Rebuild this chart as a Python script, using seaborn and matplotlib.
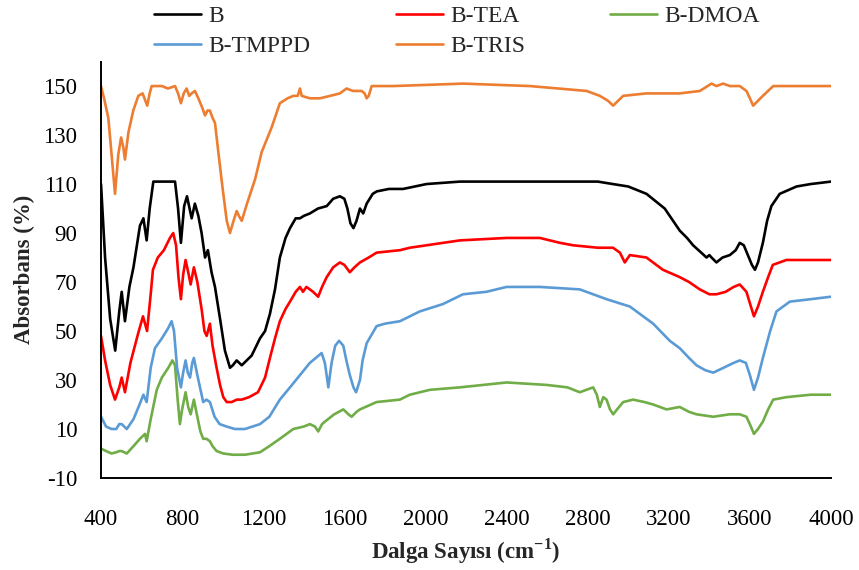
import pandas as pd
import matplotlib.pyplot as plt
import seaborn as sns

# -------------------------
# 1. Daten
# -------------------------
wn_b = [400, 420, 445, 470, 490, 502, 518, 540, 560, 592, 609, 625, 640, 658, 700, 765, 780, 794,
        810, 824, 847, 863, 880, 896, 913, 927, 945, 962, 987, 1011, 1036, 1050, 1069, 1094, 1143,
        1184, 1209, 1233, 1258, 1282, 1310, 1332, 1360, 1381, 1400, 1430, 1470, 1513, 1545, 1578,
        1600, 1615, 1630, 1645, 1660, 1677, 1693, 1710, 1740, 1760, 1820, 1890, 2005, 2170, 2400,
        2700, 2850, 2924, 3000, 3090, 3180, 3254, 3290, 3320, 3360, 3386, 3400, 3411, 3435, 3465,
        3501, 3530, 3550, 3570, 3590, 3610, 3625, 3640, 3664, 3685, 3706, 3747, 3830, 3900, 4000]
abs_b = [110, 80, 55, 42, 58, 66, 54, 68, 76, 93, 96, 87, 100, 111, 111, 111, 100, 86,
         101, 105, 96, 102, 97, 90, 80, 83, 74, 68, 55, 42, 35, 36, 38, 36, 40,
         47, 50, 57, 67, 80, 88, 92, 96, 96, 97, 98, 100, 101, 104, 105,
         104, 100, 94, 92, 95, 100, 98, 102, 106, 107, 108, 108, 110, 111, 111,
         111, 111, 110, 109, 106, 100, 91, 88, 85, 82, 80, 81, 80, 78, 80,
         81, 83, 86, 85, 81, 77, 75, 78, 86, 95, 101, 106, 109, 110, 111]

wn_tea = [400, 420, 445, 469, 490, 502, 518, 545, 583, 607, 627, 645, 656, 680, 710, 740, 756, 770,
          782, 794, 805, 817, 830, 842, 858, 875, 896, 910, 921, 937, 950, 970, 987, 1003, 1020,
          1044, 1070, 1094, 1130, 1174, 1209, 1233, 1258, 1282, 1310, 1332, 1360, 1381, 1396, 1413,
          1446, 1471, 1490, 1513, 1545, 1578, 1600, 1627, 1650, 1677, 1720, 1759, 1874, 1923, 2005,
          2170, 2400, 2564, 2663, 2728, 2850, 2925, 2959, 2983, 3008, 3090, 3171, 3254, 3300, 3353,
          3400, 3435, 3480, 3520, 3550, 3583, 3605, 3620, 3640, 3664, 3690, 3713, 3780, 3900, 4000]
abs_tea = [48, 38, 28, 22, 27, 31, 25, 37, 49, 56, 50, 65, 75, 80, 83, 88, 90, 85,
           72, 63, 73, 79, 74, 69, 76, 70, 59, 50, 48, 53, 44, 35, 28, 23, 21,
           21, 22, 22, 23, 25, 31, 39, 47, 54, 59, 62, 66, 68, 66, 68,
           66, 64, 68, 72, 76, 78, 77, 74, 76, 78, 80, 82, 83, 84, 85,
           87, 88, 88, 86, 85, 84, 84, 82, 78, 81, 80, 75, 72, 70, 67,
           65, 65, 66, 68, 69, 66, 60, 56, 60, 66, 72, 77, 79, 79, 79]

wn_dmoa = [400, 425, 452, 475, 490, 502, 527, 560, 592, 617, 625, 645, 675, 700, 732, 752, 765, 778,
           789, 800, 817, 830, 842, 858, 875, 890, 904, 920, 937, 950, 970, 1003, 1050, 1110, 1184,
           1230, 1282, 1348, 1400, 1430, 1455, 1471, 1490, 1504, 1550, 1595, 1620, 1636, 1660, 1677,
           1759, 1874, 1923, 2022, 2170, 2400, 2597, 2700, 2761, 2827, 2845, 2860, 2877, 2893, 2910,
           2926, 2945, 2975, 3024, 3080, 3123, 3189, 3254, 3300, 3337, 3419, 3500, 3550, 3583, 3605,
           3620, 3640, 3664, 3690, 3715, 3780, 3900, 4000]
abs_dmoa = [2, 1, 0, 0.5, 1, 1, 0, 3, 6, 8, 5, 14, 26, 31, 35, 38, 36, 22,
            12, 18, 25, 19, 16, 22, 15, 9, 6, 6, 5, 3, 1, 0, -0.5, -0.5, 0.5,
            3, 6, 10, 11, 12, 11, 9, 12, 13, 16, 18, 16, 15, 17, 18,
            21, 22, 24, 26, 27, 29, 28, 27, 25, 27, 24, 19, 23, 22, 18,
            16, 18, 21, 22, 21, 20, 18, 19, 17, 16, 15, 16, 16, 15, 11,
            8, 10, 13, 18, 22, 23, 24, 24]

wn_tmppd = [400, 425, 452, 475, 490, 502, 527, 560, 590, 609, 625, 645, 666, 700, 730, 748, 760, 775,
            794, 805, 817, 828, 839, 850, 858, 875, 896, 904, 920, 937, 960, 985, 1020, 1060, 1110,
            1184, 1230, 1282, 1332, 1381, 1430, 1488, 1504, 1521, 1537, 1555, 1574, 1595, 1610, 1627,
            1645, 1658, 1677, 1690, 1710, 1759, 1800, 1874, 1972, 2086, 2185, 2300, 2400, 2564, 2761,
            2893, 3008, 3123, 3205, 3254, 3300, 3337, 3380, 3419, 3470, 3520, 3550, 3580, 3600, 3620,
            3640, 3664, 3700, 3731, 3797, 3900, 4000]
abs_tmppd = [15, 11, 10, 10, 12, 12, 10, 14, 20, 24, 21, 35, 43, 47, 51, 54, 50, 35,
             27, 33, 38, 33, 31, 37, 39, 32, 24, 21, 22, 21, 15, 12, 11, 10, 10,
             12, 15, 22, 27, 32, 37, 41, 37, 27, 37, 44, 46, 44, 38, 32,
             27, 25, 30, 38, 45, 52, 53, 54, 58, 61, 65, 66, 68, 68, 67,
             63, 60, 53, 46, 43, 39, 36, 34, 33, 35, 37, 38, 37, 32, 26,
             31, 39, 50, 58, 62, 63, 64]

wn_tris = [400, 415, 436, 450, 469, 485, 499, 510, 518, 535, 559, 584, 605, 628, 640, 650, 700, 730,
           765, 780, 794, 808, 822, 835, 847, 863, 880, 900, 913, 925, 937, 950, 962, 980, 1000,
           1020, 1036, 1050, 1069, 1080, 1094, 1120, 1160, 1192, 1241, 1282, 1320, 1348, 1370, 1381,
           1390, 1430, 1480, 1530, 1578, 1611, 1643, 1685, 1700, 1710, 1720, 1735, 1841, 2186, 2515,
           2795, 2860, 2900, 2926, 2950, 2975, 3090, 3254, 3353, 3411, 3435, 3468, 3501, 3550, 3583,
           3600, 3616, 3640, 3664, 3715, 3850, 4000]
abs_tris = [150, 145, 137, 124, 106, 122, 129, 125, 120, 131, 140, 146, 147, 142, 147, 150, 150, 149,
            150, 147, 143, 147, 149, 146, 147, 148, 145, 141, 138, 140, 140, 137, 135, 122, 108,
            95, 90, 94, 99, 97, 95, 102, 112, 123, 133, 143, 145, 146, 146, 149,
            146, 145, 145, 146, 147, 149, 148, 148, 147, 145, 146, 150, 150, 151, 150,
            148, 146, 144, 142, 144, 146, 147, 147, 148, 151, 150, 151, 150, 150, 148,
            145, 142, 144, 146, 150, 150, 150]

reihen = ['B', 'B-TEA', 'B-DMOA', 'B-TMPPD', 'B-TRIS']
farben = {'B': '#000000', 'B-TEA': '#FF0000', 'B-DMOA': '#70AD47',
          'B-TMPPD': '#5B9BD5', 'B-TRIS': '#ED7D31'}

teile = [
    pd.DataFrame({'Dalga': wn_b, 'Abs': abs_b, 'Numune': 'B'}),
    pd.DataFrame({'Dalga': wn_tea, 'Abs': abs_tea, 'Numune': 'B-TEA'}),
    pd.DataFrame({'Dalga': wn_dmoa, 'Abs': abs_dmoa, 'Numune': 'B-DMOA'}),
    pd.DataFrame({'Dalga': wn_tmppd, 'Abs': abs_tmppd, 'Numune': 'B-TMPPD'}),
    pd.DataFrame({'Dalga': wn_tris, 'Abs': abs_tris, 'Numune': 'B-TRIS'}),
]
df = pd.concat(teile, ignore_index=True)

# -------------------------
# 2. Design
# -------------------------
sns.set_theme(style="white")
plt.rcParams['font.family'] = ['Liberation Serif', 'DejaVu Serif']
plt.rcParams['axes.unicode_minus'] = False
plt.rcParams['mathtext.fontset'] = 'custom'
plt.rcParams['mathtext.rm'] = 'Liberation Serif'
plt.rcParams['mathtext.bf'] = 'Liberation Serif:bold'

# -------------------------
# 3. Diagramm
# -------------------------
fig = plt.figure(figsize=(8.59, 5.70), dpi=100)
ax = fig.add_axes([0.1176, 0.1614, 0.8498, 0.7306])

sns.lineplot(data=df, x='Dalga', y='Abs', hue='Numune', hue_order=reihen,
             palette=farben, estimator=None, linewidth=1.9, ax=ax, legend=False)

ax.set_xlim(400, 4000)
ax.set_ylim(-10, 160)
ax.set_xticks(range(400, 4001, 400))
ax.set_yticks(range(-10, 151, 20))
ax.tick_params(axis='x', direction='in', length=6, width=1.3, labelsize=16.5, pad=22, colors='black')
ax.tick_params(axis='y', direction='out', length=6, width=1.3, labelsize=16.5, pad=11, colors='black')
for s in ['top', 'right']:
    ax.spines[s].set_visible(False)
for s in ['left', 'bottom']:
    ax.spines[s].set_color('black')
    ax.spines[s].set_linewidth(1.4)

ax.set_xlabel(r'Dalga Sayısı (cm$^{\mathbf{-1}}$)', fontsize=16.5, fontweight='bold', labelpad=5)
ax.set_ylabel('Absorbans (%)', fontsize=16.5, fontweight='bold', labelpad=6)

# Legende: zwei Zeilen, drei Spalten
linien = dict(zip(reihen, ax.lines))
reihenfolge = ['B', 'B-TMPPD', 'B-TEA', 'B-TRIS', 'B-DMOA']
fig.legend([linien[r] for r in reihenfolge], reihenfolge, ncol=3, loc='center',
           bbox_to_anchor=(0.532, 0.945), frameon=False, fontsize=17,
           handlelength=2.0, handletextpad=0.3, columnspacing=3.6, labelspacing=0.35)

# -------------------------
# 4. Speichern
# -------------------------
plt.savefig('out.png', dpi=100)
